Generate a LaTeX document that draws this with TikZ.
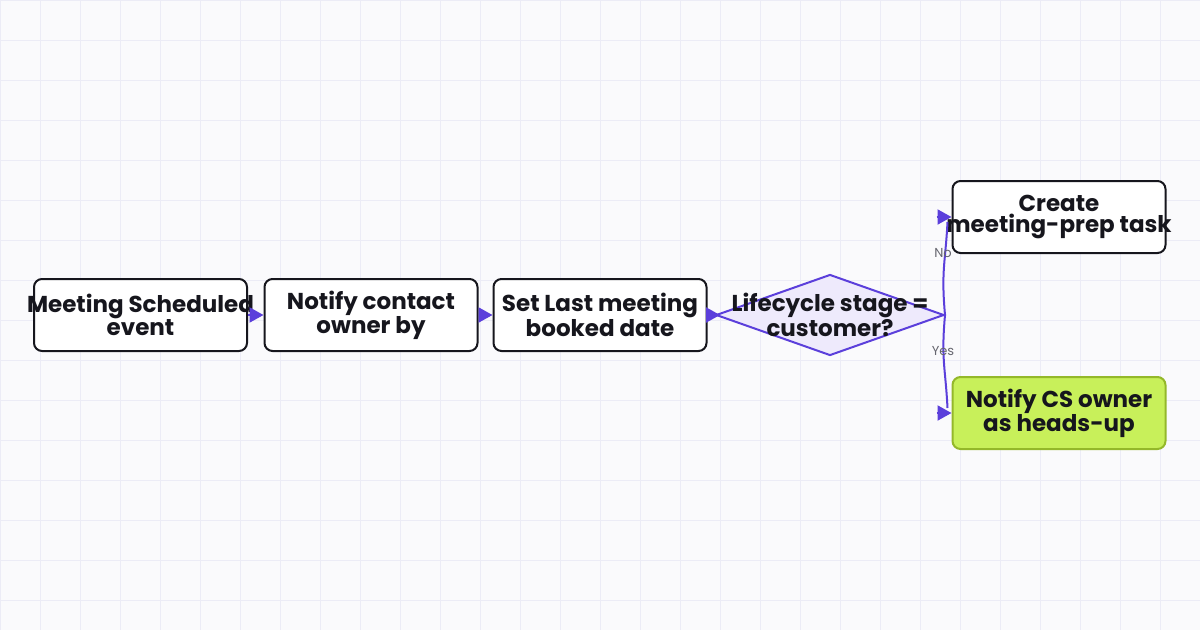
\documentclass[tikz,border=0pt]{standalone}
\usepackage{fontspec}
\setmainfont{Poppins}
\usetikzlibrary{shapes.geometric,arrows.meta}

\definecolor{bgpaper}{HTML}{FAFAFC}
\definecolor{gridc}{HTML}{ECECF6}
\definecolor{flowc}{HTML}{5B3FDB}
\definecolor{decfill}{HTML}{EEEAFC}
\definecolor{inkc}{HTML}{16161D}
\definecolor{limefill}{HTML}{C8F05A}
\definecolor{limeline}{HTML}{94B82A}
\definecolor{labelc}{HTML}{66666F}

\newcommand{\mline}[1]{\makebox[0pt]{#1}}

\tikzset{
  stepbox/.style={draw=inkc, line width=2pt, fill=white, rounded corners=8pt,
    minimum width=213pt, minimum height=72pt, inner sep=0pt, align=center,
    font=\fontsize{23}{20.5}\selectfont\bfseries, text=inkc},
  hibox/.style={stepbox, draw=limeline, fill=limefill},
  decbox/.style={diamond, draw=flowc, fill=decfill, line width=2pt,
    minimum width=228pt, minimum height=81pt, inner sep=0pt, align=center,
    font=\fontsize{23}{20.5}\selectfont\bfseries, text=inkc},
  flow/.style={draw=flowc, line width=2pt, -{Triangle[length=14pt,width=15pt]}},
  edgelbl/.style={font=\fontsize{13}{13}\selectfont, text=labelc}
}

\begin{document}
\begin{tikzpicture}[x=1pt,y=-1pt]
\useasboundingbox (0,0) rectangle (1200,630);
\fill[bgpaper] (0,0) rectangle (1200,630);
\foreach \gx in {0,40,...,1200}
  \draw[gridc, line width=1pt] (\gx,0) -- (\gx,630);
\foreach \gy in {0,40,...,600}
  \draw[gridc, line width=1pt] (0,\gy) -- (1200,\gy);

\node[stepbox] (meeting) at (140.5,315) {\mline{Meeting Scheduled}\\\mline{event}};
\node[stepbox] (notify) at (371,315) {\mline{Notify contact}\\\mline{owner by}};
\node[stepbox] (setdate) at (600,315) {\mline{Set Last meeting}\\\mline{booked date}};
\node[decbox] (dec) at (830,315) {\mline{Lifecycle stage =}\\\mline{customer?}};
\node[stepbox] (create) at (1059,217) {\mline{Create}\\\mline{meeting-prep task}};
\node[hibox] (notifycs) at (1059,413) {\mline{Notify CS owner}\\\mline{as heads-up}};

\draw[flow] (meeting.east) -- (notify.west);
\draw[flow] (notify.east) -- (setdate.west);
\draw[flow] (setdate.east) -- ([xshift=5pt]dec.west);

% No branch
\draw[flow, -] (dec.east) .. controls +(-4,-45) and +(-2,40) .. ([shift={(-4,5)}]create.west);
\draw[flow] ([xshift=-15pt]create.west) -- (create.west);
\node[edgelbl] (nolbl) at (943,253) {No};

% Yes branch
\draw[flow, -] (dec.east) .. controls +(-4,45) and +(-2,-40) .. ([shift={(-4,-5)}]notifycs.west);
\draw[flow] ([xshift=-15pt]notifycs.west) -- (notifycs.west);
\node[edgelbl] (yeslbl) at (943,351) {Yes};

\end{tikzpicture}
\end{document}
